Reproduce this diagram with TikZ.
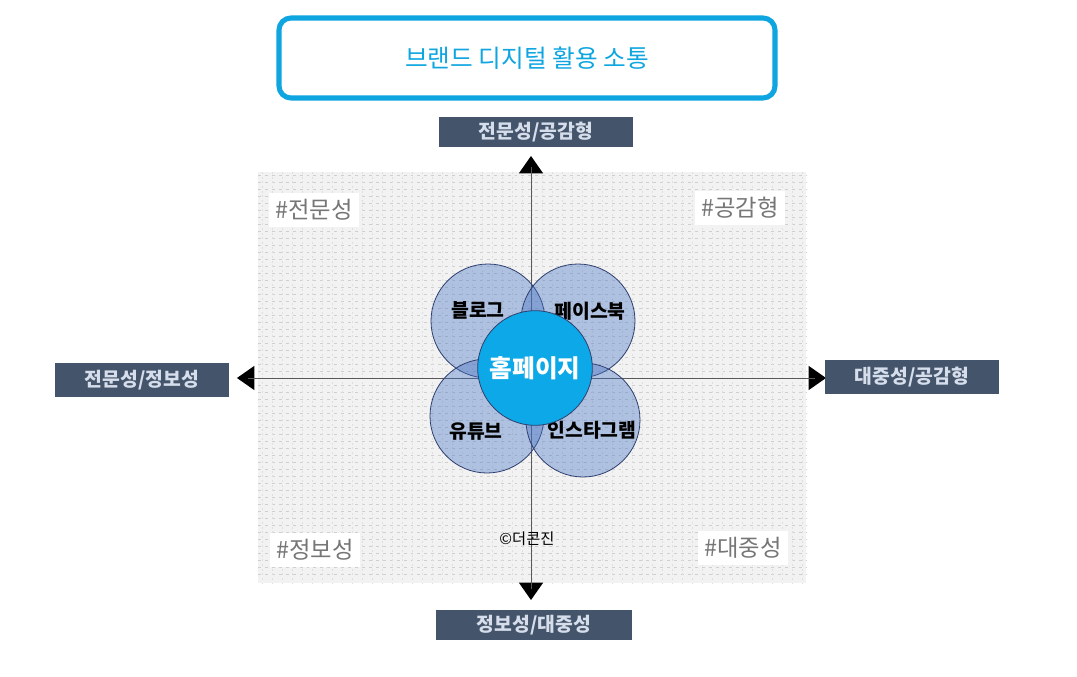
\documentclass[tikz,border=0pt]{standalone}
\usepackage{fontspec}
\setmainfont{Noto Sans CJK KR}
\usetikzlibrary{shapes.geometric}
\definecolor{titleblue}{RGB}{14,165,224}
\definecolor{slate}{RGB}{68,84,106}
\definecolor{slatetext}{RGB}{214,222,236}
\definecolor{satfill}{RGB}{68,114,196}
\definecolor{satdraw}{RGB}{47,63,111}
\definecolor{homefill}{RGB}{12,168,232}
\definecolor{cornertext}{RGB}{118,118,118}
\begin{document}
\begin{tikzpicture}[x=0.75pt,y=-0.75pt,
  axislabel/.style={fill=slate,text=slatetext,font=\bfseries\fontsize{14.5}{16}\selectfont,minimum width=146pt,minimum height=23pt,inner sep=0pt},
  corner/.style={fill=white,text=cornertext,font=\fontsize{17.5}{19}\selectfont,minimum width=68pt,minimum height=26pt,inner sep=0pt},
  sat/.style={circle,minimum size=85.5pt,inner sep=0pt,draw=satdraw,line width=0.6pt,fill=satfill,fill opacity=0.38,text opacity=1},
  satlabel/.style={font=\bfseries\fontsize{14.5}{16}\selectfont,text=black},
  arrowtri/.style={isosceles triangle,isosceles triangle apex angle=70,fill=black,inner sep=0pt,minimum height=13pt,minimum width=17pt},
  axisline/.style={draw=black!65,line width=0.5pt}
]
\useasboundingbox (0,0) rectangle (1077,677);
% title
\node[draw=titleblue,line width=3.8pt,rounded corners=9pt,minimum width=372pt,minimum height=60pt,text=titleblue,font=\fontsize{18.5}{21}\selectfont] (title) at (527,58) {브랜드 디지털 활용 소통};
% grid area
\fill[gray!10] (258,172) rectangle (806,583);
\foreach \yy in {175,182,...,580} {\draw[gray!38,line width=0.35pt,dash pattern=on 2.2pt off 3pt] (258,\yy) -- (806,\yy);}
\foreach \xx in {262,272,...,802} {\draw[gray!25,line width=0.3pt,dash pattern=on 1.5pt off 2pt] (\xx,172) -- (\xx,583);}
% corner labels
\node[corner] (c1) at (314,210) {\#전문성};
\node[corner] (c2) at (740,208) {\#공감형};
\node[corner] (c3) at (315,550) {\#정보성};
\node[corner] (c4) at (743,548) {\#대중성};
% arrow heads
\node[arrowtri,rotate=90] (atop) at (531,167) {};
\node[arrowtri,rotate=-90] (abot) at (531,589) {};
\node[arrowtri,rotate=180] (aleft) at (248,378) {};
\node[arrowtri] (aright) at (815,378) {};
% axes
\draw[axisline] (atop.base) -- (abot.base);
\draw[axisline] (aleft.base) -- (aright.base);
% axis labels
\node[axislabel] (ltop) at (536,132) {전문성/공감형};
\node[axislabel,minimum width=147pt] (lbot) at (534,625) {정보성/대중성};
\node[axislabel,minimum width=130pt,minimum height=25pt] (lleft) at (142,380) {전문성/정보성};
\node[axislabel,minimum width=130pt,minimum height=25pt] (lright) at (912,377) {대중성/공감형};
% satellite circles
\node[sat] (blog) at (488,321) {};
\node[sat] (fb) at (578,321) {};
\node[sat] (yt) at (487,416) {};
\node[sat] (insta) at (583,420) {};
\node[satlabel] at (478,310) {블로그};
\node[satlabel] at (590,311) {페이스북};
\node[satlabel] at (476,432) {유튜브};
\node[satlabel] at (592,430) {인스타그램};
% home circle
\node[circle,minimum size=86pt,inner sep=0pt,draw=satdraw,line width=0.6pt,fill=homefill,text=white,font=\bfseries\fontsize{18.5}{20}\selectfont] (home) at (535,368) {홈페이지};
% copyright
\node[font=\fontsize{11.5}{13}\selectfont,text=black] (copy) at (527,539) {©더콘진};
\end{tikzpicture}
\end{document}
